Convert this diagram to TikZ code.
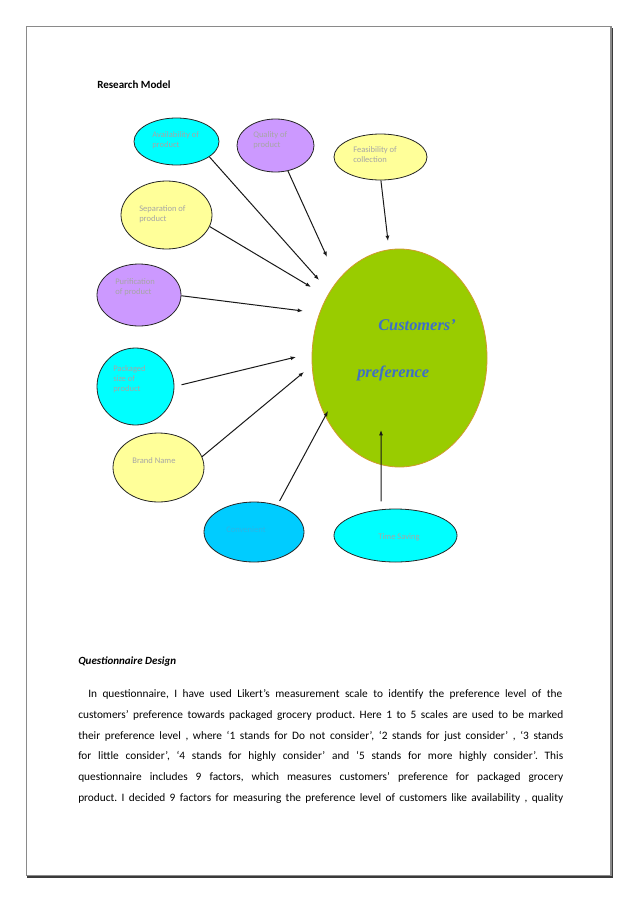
\documentclass[tikz,border=0pt]{standalone}
\usepackage{fontspec}
\setmainfont{Carlito}
\newfontfamily\custfont{Liberation Serif}
\usetikzlibrary{arrows.meta,shapes.geometric}
\definecolor{cyanf}{HTML}{00FFFF}
\definecolor{purpf}{HTML}{CC99FF}
\definecolor{yelf}{HTML}{FFFF99}
\definecolor{greenf}{HTML}{99CC00}
\definecolor{bluef}{HTML}{00CCFF}
\definecolor{labelc}{HTML}{A6A6A6}
\definecolor{convc}{HTML}{2FB4E4}
\definecolor{custc}{HTML}{3D6FC8}
\definecolor{orangeb}{HTML}{D09A30}
\definecolor{framec}{HTML}{8A8A8A}
\definecolor{shadowc}{HTML}{3A3A3A}
\newcommand\myjline[2]{\frenchspacing\spaceskip=0.2em plus 1em minus 0.08em\relax\hbox to #1{#2}}
\tikzset{
  factor/.style={ellipse, draw=black!85, line width=0.6pt, inner sep=0pt},
  lbl/.style={inner sep=0pt, text=labelc, font=\fontsize{6.4pt}{7.6pt}\selectfont, align=left},
  arr/.style={-{Latex[length=4pt,width=3pt]}, line width=0.75pt, black!90},
  bodyline/.style={inner sep=0pt, anchor=base west, font=\fontsize{8.5pt}{10pt}\selectfont},
}
\begin{document}
\begin{tikzpicture}[x=0.75pt,y=-0.75pt]
\useasboundingbox (0,0) rectangle (638,903);
% page frame
\draw[framec, line width=0.8pt] (26.5,26.5) rectangle (611,875.5);
\draw[shadowc, line width=1.1pt] (27,877) -- (612.5,877) -- (612.5,28);

\node[bodyline, font=\fontsize{8.25pt}{10pt}\selectfont\bfseries] (title) at (97,88) {Research Model};

% factor ellipses
\node[factor, fill=cyanf, minimum width=63.75pt, minimum height=35.25pt] (avail) at (176.5,141.5) {};
\node[factor, fill=purpf, minimum width=57.75pt, minimum height=39.75pt] (qual) at (275.5,145.5) {};
\node[factor, fill=yelf, minimum width=69.75pt, minimum height=34.5pt] (feas) at (380.5,157) {};
\node[factor, fill=yelf, minimum width=68.25pt, minimum height=51pt] (sep) at (166.5,215) {};
\node[factor, fill=purpf, minimum width=63pt, minimum height=46.5pt] (puri) at (139,295) {};
\node[factor, fill=cyanf, minimum width=57.75pt, minimum height=57.75pt] (pack) at (135.5,386.5) {};
\node[factor, fill=yelf, minimum width=68.25pt, minimum height=51.75pt] (brand) at (158.5,467.5) {};
\node[factor, fill=bluef, minimum width=75pt, minimum height=45pt] (conv) at (254,532) {};
\node[factor, fill=cyanf, minimum width=92.25pt, minimum height=39.75pt] (time) at (395.5,535.5) {};
\node[ellipse, draw=orangeb, line width=0.6pt, fill=greenf, inner sep=0pt, minimum width=131.25pt, minimum height=163.5pt] (cust) at (399.5,358) {};

% labels
\node[lbl, anchor=west] (availt) at (152,140) {Availability of\\product};
\node[lbl, anchor=west] (qualt) at (253,140) {Quality of\\product};
\node[lbl, anchor=west] (feast) at (353,154.5) {Feasibility of\\collection};
\node[lbl, anchor=west] (sept) at (139,214.5) {Separation of\\product};
\node[lbl, anchor=west] (purit) at (115,287) {Purification\\of product};
\node[lbl, anchor=west] (packt) at (113,379) {Packaged\\size of\\product};
\node[lbl] (brandt) at (154,461) {Brand Name};
\node[lbl, text=convc] (convt) at (246,530) {Convenient};
\node[lbl] (timet) at (399,537) {Time Saving};
\node[inner sep=0pt, anchor=base west, text=custc, font=\custfont\fontsize{12.3pt}{14pt}\selectfont\bfseries\itshape] (custa) at (378,330) {Customers’};
\node[inner sep=0pt, anchor=base west, text=custc, font=\custfont\fontsize{12.3pt}{14pt}\selectfont\bfseries\itshape] (custb) at (357,377) {preference};

% arrow tips
\coordinate (t1) at (319,280);
\coordinate (t2) at (327,257);
\coordinate (t3) at (388,241);
\coordinate (t4) at (311,287);
\coordinate (t5) at (303,311);
\coordinate (t6) at (296,357);
\coordinate (t7) at (304,372);
\coordinate (t8) at (328,411);
\coordinate (t9) at (381,430);

\draw[arr] (avail.-25) -- (t1);
\draw[arr] (qual.-64) -- (t2);
\draw[arr] (feas.-89) -- (t3);
\draw[arr] (sep.-15) -- (t4);
\draw[arr] (puri.-1) -- (t5);
\draw[arr, shorten <=5.5pt] (pack.0) -- (t6);
\draw[arr] (brand.14) -- (t7);
\draw[arr, shorten <=3.5pt] (conv.49) -- (t8);
\draw[arr, shorten <=6pt] (time.119.4) -- (t9);

% text below
\node[bodyline, font=\fontsize{8.25pt}{10pt}\selectfont\bfseries\itshape] (qd) at (78,664) {Questionnaire Design};
\node[bodyline] (l1) at (88,697) {\myjline{355.5pt}{In questionnaire, I have used Likert’s measurement scale to identify the preference level of the}};
\node[bodyline] (l2) at (78,718) {\myjline{363.75pt}{customers’ preference towards packaged grocery product. Here 1 to 5 scales are used to be marked}};
\node[bodyline] (l3) at (78,739) {\myjline{363.75pt}{their preference level , where ‘1 stands for Do not consider’, ‘2 stands for just consider’ , ‘3 stands}};
\node[bodyline] (l4) at (78,759) {\myjline{363.75pt}{for little consider’, ‘4 stands for highly consider’ and ‘5 stands for more highly consider’. This}};
\node[bodyline] (l5) at (78,780) {\myjline{363.75pt}{questionnaire includes 9 factors, which measures customers’ preference for packaged grocery}};
\node[bodyline] (l6) at (78,801) {\myjline{363.75pt}{product. I decided 9 factors for measuring the preference level of customers like availability , quality}};
\end{tikzpicture}
\end{document}
